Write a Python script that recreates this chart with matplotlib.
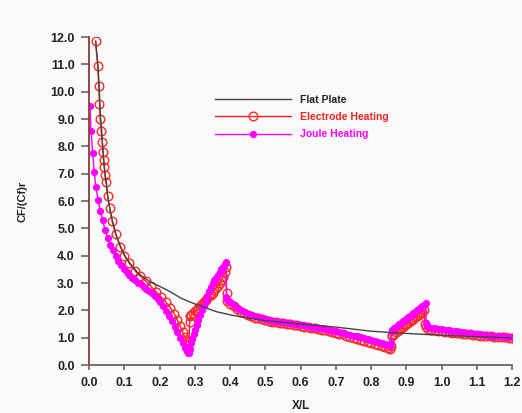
import matplotlib
matplotlib.use("Agg")
import matplotlib.pyplot as plt

plt.rcParams['font.family'] = ['Liberation Sans', 'DejaVu Sans']

# Flat plate reference curve
flat_x = [0.018, 0.025, 0.028, 0.030, 0.032, 0.035, 0.038, 0.042, 0.045, 0.048,
          0.052, 0.058, 0.065, 0.076, 0.089, 0.101, 0.116, 0.14, 0.172, 0.2,
          0.229, 0.26, 0.295, 0.33, 0.362, 0.4, 0.437, 0.5, 0.6, 0.7,
          0.8, 0.9, 1.0, 1.1, 1.2]
flat_y = [11.85, 10.9, 10.2, 9.6, 9.05, 8.6, 8.0, 7.3, 6.95, 6.7,
          6.2, 5.75, 5.3, 4.78, 4.33, 4.0, 3.72, 3.35, 3.05, 2.88,
          2.69, 2.45, 2.26, 2.1, 1.95, 1.84, 1.75, 1.63, 1.5, 1.39,
          1.24, 1.16, 1.09, 1.04, 0.99]

# Electrode heating
elec_x = [0.018, 0.024, 0.027, 0.029, 0.031, 0.034, 0.037, 0.039, 0.041, 0.043,
          0.045, 0.048, 0.052, 0.058, 0.065, 0.075, 0.088, 0.100, 0.114, 0.13,
          0.145, 0.16, 0.175, 0.19, 0.205, 0.218, 0.23, 0.241, 0.25, 0.258,
          0.265, 0.271, 0.276, 0.280, 0.283, 0.285, 0.287,
          0.29, 0.295, 0.30, 0.305, 0.31, 0.315, 0.32, 0.325, 0.33, 0.335,
          0.34, 0.345, 0.35, 0.355, 0.36, 0.365, 0.37, 0.375, 0.38, 0.385,
          0.389, 0.390, 0.392, 0.40, 0.41, 0.42, 0.43, 0.44, 0.45, 0.46,
          0.47, 0.48, 0.49, 0.50, 0.51, 0.52, 0.53, 0.54, 0.55, 0.56,
          0.57, 0.58, 0.59, 0.60, 0.61, 0.62, 0.63, 0.64, 0.65, 0.66,
          0.67, 0.68, 0.69, 0.70, 0.71, 0.72, 0.73, 0.74, 0.75, 0.76,
          0.77, 0.78, 0.79, 0.80, 0.81, 0.82, 0.83, 0.84, 0.848, 0.853,
          0.856, 0.858, 0.86, 0.865, 0.87, 0.875, 0.88, 0.885, 0.89, 0.895,
          0.90, 0.905, 0.91, 0.915, 0.92, 0.925, 0.93, 0.935, 0.94, 0.945,
          0.950, 0.953, 0.955, 0.96, 0.97, 0.98, 0.99, 1.00, 1.01, 1.02,
          1.03, 1.04, 1.05, 1.06, 1.07, 1.08, 1.09, 1.10, 1.11, 1.12,
          1.13, 1.14, 1.15, 1.16, 1.17, 1.18, 1.19, 1.20]
elec_y = [11.85, 10.95, 10.2, 9.55, 9.0, 8.55, 8.15, 7.8, 7.5, 7.25,
          6.95, 6.7, 6.2, 5.75, 5.28, 4.78, 4.33, 4.0, 3.72, 3.45,
          3.25, 3.08, 2.88, 2.68, 2.48, 2.3, 2.1, 1.88, 1.65, 1.42,
          1.2, 1.02, 0.9, 0.85, 0.88, 1.59, 1.78,
          1.85, 1.91, 1.97, 2.03, 2.1, 2.17, 2.25, 2.32, 2.4, 2.46,
          2.52, 2.58, 2.65, 2.73, 2.82, 2.9, 3.0, 3.1, 3.22, 3.4,
          3.6, 2.65, 2.35, 2.25, 2.15, 2.05, 1.96, 1.89, 1.83, 1.78,
          1.74, 1.71, 1.68, 1.65, 1.62, 1.59, 1.57, 1.55, 1.53, 1.51,
          1.49, 1.47, 1.45, 1.43, 1.41, 1.39, 1.37, 1.35, 1.32, 1.30,
          1.27, 1.24, 1.21, 1.18, 1.15, 1.12, 1.08, 1.04, 1.0, 0.96,
          0.92, 0.88, 0.84, 0.80, 0.76, 0.72, 0.69, 0.65, 0.61, 0.58,
          0.7, 1.05, 1.1, 1.15, 1.2, 1.25, 1.3, 1.35, 1.4, 1.45,
          1.5, 1.55, 1.6, 1.65, 1.7, 1.75, 1.8, 1.85, 1.9, 1.96,
          2.02, 1.5, 1.38, 1.33, 1.3, 1.28, 1.26, 1.24, 1.22, 1.21,
          1.19, 1.18, 1.16, 1.15, 1.13, 1.12, 1.11, 1.1, 1.08, 1.07,
          1.06, 1.05, 1.04, 1.03, 1.02, 1.01, 1.0, 0.99]

# Joule heating
joule_x = [0.002, 0.005, 0.010, 0.014, 0.019, 0.025, 0.031, 0.038, 0.045, 0.052,
           0.060, 0.067, 0.075, 0.082, 0.090, 0.098, 0.106, 0.114, 0.122, 0.130,
           0.138, 0.146, 0.154, 0.162, 0.170, 0.178, 0.186, 0.194, 0.202, 0.210,
           0.218, 0.226, 0.234, 0.242, 0.250, 0.258, 0.265, 0.271, 0.276, 0.280,
           0.283, 0.286, 0.288, 0.292, 0.296, 0.30, 0.305, 0.31, 0.315, 0.32,
           0.325, 0.33, 0.335, 0.34, 0.345, 0.35, 0.355, 0.36, 0.365, 0.37,
           0.375, 0.38, 0.384, 0.388, 0.389, 0.392, 0.40, 0.41, 0.42, 0.43,
           0.44, 0.45, 0.46, 0.47, 0.48, 0.49, 0.50, 0.51, 0.52, 0.53,
           0.54, 0.55, 0.56, 0.57, 0.58, 0.59, 0.60, 0.61, 0.62, 0.63,
           0.64, 0.65, 0.66, 0.67, 0.68, 0.69, 0.70, 0.71, 0.72, 0.73,
           0.74, 0.75, 0.76, 0.77, 0.78, 0.79, 0.80, 0.81, 0.82, 0.83,
           0.84, 0.848, 0.853, 0.856, 0.858, 0.86, 0.865, 0.87, 0.875, 0.88,
           0.885, 0.89, 0.895, 0.90, 0.905, 0.91, 0.915, 0.92, 0.925, 0.93,
           0.935, 0.94, 0.945, 0.95, 0.955, 0.956, 0.958, 0.962, 0.97, 0.98,
           0.99, 1.00, 1.01, 1.02, 1.03, 1.04, 1.05, 1.06, 1.07, 1.08,
           1.09, 1.10, 1.11, 1.12, 1.13, 1.14, 1.15, 1.16, 1.17, 1.18,
           1.19, 1.20]
joule_y = [9.49, 8.55, 7.75, 7.08, 6.5, 6.05, 5.65, 5.3, 4.95, 4.65,
           4.4, 4.2, 4.0, 3.82, 3.66, 3.52, 3.4, 3.29, 3.19, 3.1,
           3.02, 2.95, 2.87, 2.8, 2.72, 2.63, 2.53, 2.42, 2.3, 2.15,
           1.98, 1.8, 1.6, 1.4, 1.2, 1.0, 0.8, 0.62, 0.5, 0.43,
           0.45, 0.6, 0.8, 0.95, 1.12, 1.3, 1.48, 1.65, 1.83, 2.0,
           2.18, 2.35, 2.53, 2.72, 2.87, 3.0, 3.1, 3.2, 3.3, 3.4,
           3.5, 3.6, 3.7, 3.78, 2.5, 2.38, 2.3, 2.2, 2.1, 2.01,
           1.94, 1.88, 1.83, 1.79, 1.75, 1.72, 1.69, 1.66, 1.63, 1.61,
           1.59, 1.57, 1.55, 1.53, 1.51, 1.49, 1.47, 1.45, 1.43, 1.41,
           1.39, 1.37, 1.34, 1.32, 1.29, 1.26, 1.23, 1.2, 1.17, 1.14,
           1.11, 1.08, 1.05, 1.01, 0.98, 0.95, 0.92, 0.88, 0.84, 0.8,
           0.76, 0.72, 0.7, 0.8, 1.25, 1.3, 1.35, 1.4, 1.45, 1.5,
           1.55, 1.6, 1.65, 1.7, 1.75, 1.8, 1.85, 1.9, 1.95, 2.0,
           2.05, 2.1, 2.16, 2.21, 2.26, 1.55, 1.45, 1.4, 1.37, 1.35,
           1.33, 1.31, 1.29, 1.27, 1.25, 1.23, 1.21, 1.2, 1.18, 1.16,
           1.15, 1.14, 1.12, 1.11, 1.1, 1.08, 1.07, 1.06, 1.05, 1.04,
           1.03, 1.02]

x_ticks = [0.0, 0.1, 0.2, 0.3, 0.4, 0.5, 0.6, 0.7, 0.8, 0.9, 1.0, 1.1, 1.2]
y_ticks = [0.0, 1.0, 2.0, 3.0, 4.0, 5.0, 6.0, 7.0, 8.0, 9.0, 10.0, 11.0, 12.0]

bg = '#fafafa'
fig = plt.figure(figsize=(5.22, 4.13), dpi=100, facecolor=bg)
ax = fig.add_axes([0.171, 0.116, 0.810, 0.794], facecolor=bg)

ax.plot(flat_x, flat_y, color='#444444', lw=1.0, label='Flat Plate', zorder=3)
ax.plot(elec_x, elec_y, color='#ff2020', lw=1.0, marker='o', markersize=6.2,
        markerfacecolor='none', markeredgecolor='#ff2a2a', markeredgewidth=1.0,
        label='Electrode Heating', zorder=2)
ax.plot(joule_x, joule_y, color='#ff00ff', lw=1.0, marker='o', markersize=4.2,
        markerfacecolor='#ff00ff', markeredgecolor='#ff00ff',
        label='Joule Heating', zorder=2.5)

ax.set_xlim(0, 1.2)
ax.set_ylim(0, 12)
ax.set_xticks(x_ticks)
ax.set_yticks(y_ticks)
ax.set_xticklabels([f'{v:.1f}' for v in x_ticks])
ax.set_yticklabels([f'{v:.1f}' for v in y_ticks])

for s in ['top', 'right']:
    ax.spines[s].set_visible(False)
ax.spines['bottom'].set_color('#666666')
ax.spines['left'].set_color('#8a3a3a')
ax.spines['bottom'].set_linewidth(1.3)
ax.spines['left'].set_linewidth(1.3)
ax.tick_params(axis='y', direction='out', length=5.5, width=1.2, color='#666666',
               labelsize=9, labelcolor='#222222', pad=5)
ax.tick_params(axis='x', direction='out', length=3.5, width=1.2, color='#666666',
               labelsize=9, labelcolor='#222222', pad=5)
for lab in ax.get_xticklabels() + ax.get_yticklabels():
    lab.set_fontweight('bold')

ax.set_xlabel('X/L', fontsize=8.5, fontweight='bold', color='#222222', labelpad=8)
ax.set_ylabel('CF/(Cf)r', fontsize=8, fontweight='bold', color='#222222', labelpad=16)

leg = ax.legend(loc='upper left', bbox_to_anchor=(0.276, 0.853), frameon=False,
                handlelength=7.3, handletextpad=0.8, labelspacing=0.7,
                prop={'weight': 'bold', 'size': 7.5}, numpoints=1)
for txt, c in zip(leg.get_texts(), ['#222222', '#ff2020', '#ff00ff']):
    txt.set_color(c)

fig.savefig('out.png', dpi=100, facecolor=bg)
